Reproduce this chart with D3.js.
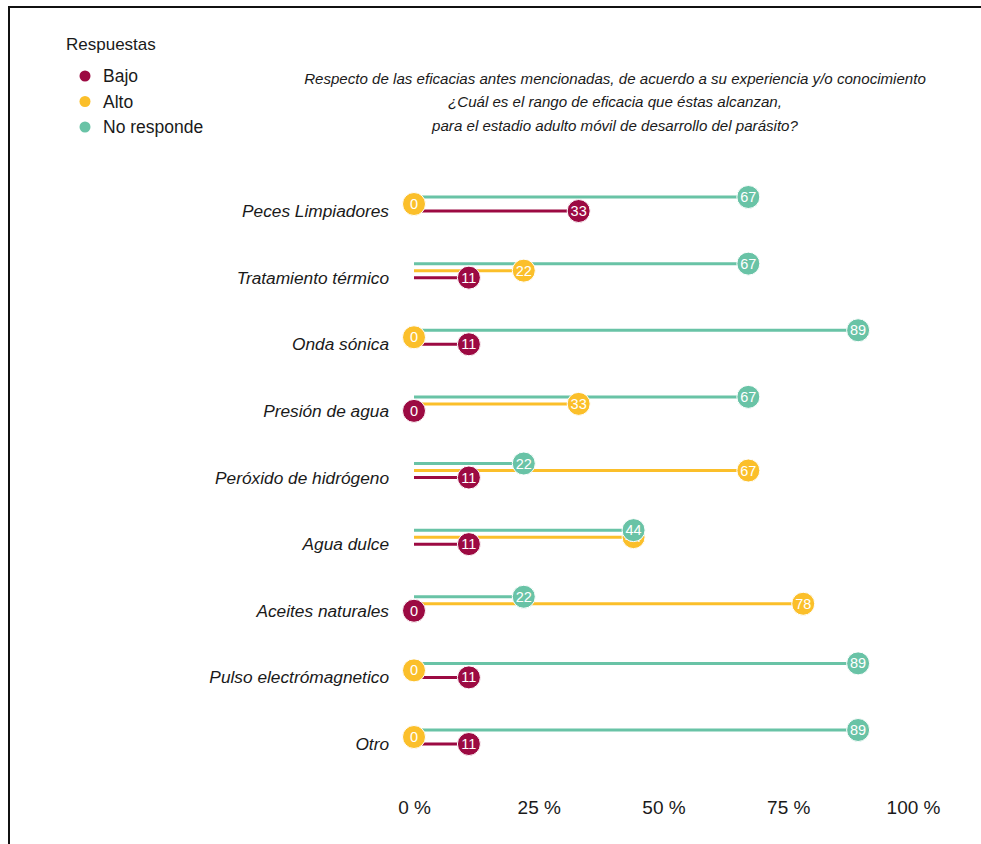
<!DOCTYPE html>
<html>
<head>
<meta charset="utf-8">
<script src="https://cdn.jsdelivr.net/npm/d3@7"></script>
<style>
  html, body { margin: 0; padding: 0; background: #fff; }
  svg { display: block; font-family: "Liberation Sans", Arial, sans-serif; }
</style>
</head>
<body>
<svg id="chart" width="981" height="844"></svg>
<script>
// Categories (top to bottom) and percentage values per response
const categories = [
  "Peces Limpiadores",
  "Tratamiento térmico",
  "Onda sónica",
  "Presión de agua",
  "Peróxido de hidrógeno",
  "Agua dulce",
  "Aceites naturales",
  "Pulso electrómagnetico",
  "Otro"
];
const bajo       = [33, 11, 11, 0, 11, 11, 0, 11, 11];
const alto       = [0, 22, 0, 33, 67, 44, 78, 0, 0];
const noResponde = [67, 67, 89, 67, 22, 44, 22, 89, 89];

const seriesNames = ["Bajo", "Alto", "No responde"];
const seriesValues = [bajo, alto, noResponde];
const tickValues = [0, 25, 50, 75, 100];
const titleLines = [
  "Respecto de las eficacias antes mencionadas, de acuerdo a su experiencia y/o conocimiento",
  "¿Cuál es el rango de eficacia que éstas alcanzan,",
  "para el estadio adulto móvil de desarrollo del parásito?"
];

const colors = { "Bajo": "#9c0a42", "Alto": "#fbbf2a", "No responde": "#69c3a6" };
const offsets = { "Bajo": 0, "Alto": -7, "No responde": -14 };

const svg = d3.select("#chart");

// Frame
svg.append("path")
  .attr("d", "M9,850 L9,7 L990,7")
  .attr("fill", "none")
  .attr("stroke", "#111")
  .attr("stroke-width", 2);

const x = d3.scaleLinear().domain([0, 100]).range([414, 913]);
const y = d3.scalePoint().domain(categories).range([211, 744]);

// Flatten to one record per category and response
const records = [];
seriesNames.forEach((s, si) => {
  categories.forEach((c, ci) => {
    records.push({ series: s, category: c, value: seriesValues[si][ci] });
  });
});

// Category labels
svg.append("g")
  .selectAll("text")
  .data(categories)
  .join("text")
  .attr("x", 389)
  .attr("y", d => y(d))
  .attr("text-anchor", "end")
  .attr("dominant-baseline", "central")
  .attr("font-style", "italic")
  .attr("font-size", 17.3)
  .attr("fill", "#1a1a1a")
  .text(d => d);

// Segments from 0 to value
svg.append("g")
  .selectAll("line")
  .data(records.filter(d => d.value > 0))
  .join("line")
  .attr("x1", x(0))
  .attr("x2", d => x(d.value))
  .attr("y1", d => y(d.category) + offsets[d.series])
  .attr("y2", d => y(d.category) + offsets[d.series])
  .attr("stroke", d => colors[d.series])
  .attr("stroke-width", 3);

// Value dots, drawn in series order
const dots = svg.append("g")
  .selectAll("g")
  .data(records)
  .join("g")
  .attr("transform", d => `translate(${x(d.value)},${y(d.category) + offsets[d.series]})`);

dots.append("circle")
  .attr("r", 11.5)
  .attr("fill", d => colors[d.series])
  .attr("stroke", "#fff")
  .attr("stroke-width", 1);

dots.append("text")
  .attr("text-anchor", "middle")
  .attr("dominant-baseline", "central")
  .attr("font-size", 14.5)
  .attr("fill", "#fff")
  .text(d => d.value);

// Bottom axis labels
const axis = d3.axisBottom(x)
  .tickValues(tickValues)
  .tickFormat(d => d + " %")
  .tickSize(0)
  .tickPadding(0);
const ag = svg.append("g").attr("transform", "translate(0,800)").call(axis);
ag.select(".domain").remove();
ag.selectAll("text")
  .attr("font-size", 19)
  .attr("font-family", "\"Liberation Sans\", Arial, sans-serif")
  .attr("fill", "#1a1a1a");

// Title
svg.append("g")
  .selectAll("text")
  .data(titleLines)
  .join("text")
  .attr("x", 615)
  .attr("y", (d, i) => 78 + i * 23.5)
  .attr("text-anchor", "middle")
  .attr("dominant-baseline", "central")
  .attr("font-style", "italic")
  .attr("font-size", 15.1)
  .attr("fill", "#1a1a1a")
  .text(d => d);

// Legend
const legend = svg.append("g");
legend.append("text")
  .attr("x", 66)
  .attr("y", 44)
  .attr("dominant-baseline", "central")
  .attr("font-size", 17)
  .attr("fill", "#1a1a1a")
  .text("Respuestas");
const li = legend.selectAll("g.item")
  .data(seriesNames)
  .join("g")
  .attr("class", "item")
  .attr("transform", (d, i) => `translate(0,${76 + i * 25.5})`);
li.append("circle")
  .attr("cx", 85)
  .attr("r", 5.5)
  .attr("fill", d => colors[d]);
li.append("text")
  .attr("x", 103)
  .attr("dominant-baseline", "central")
  .attr("font-size", 17.5)
  .attr("fill", "#1a1a1a")
  .text(d => d);
</script>
</body>
</html>
